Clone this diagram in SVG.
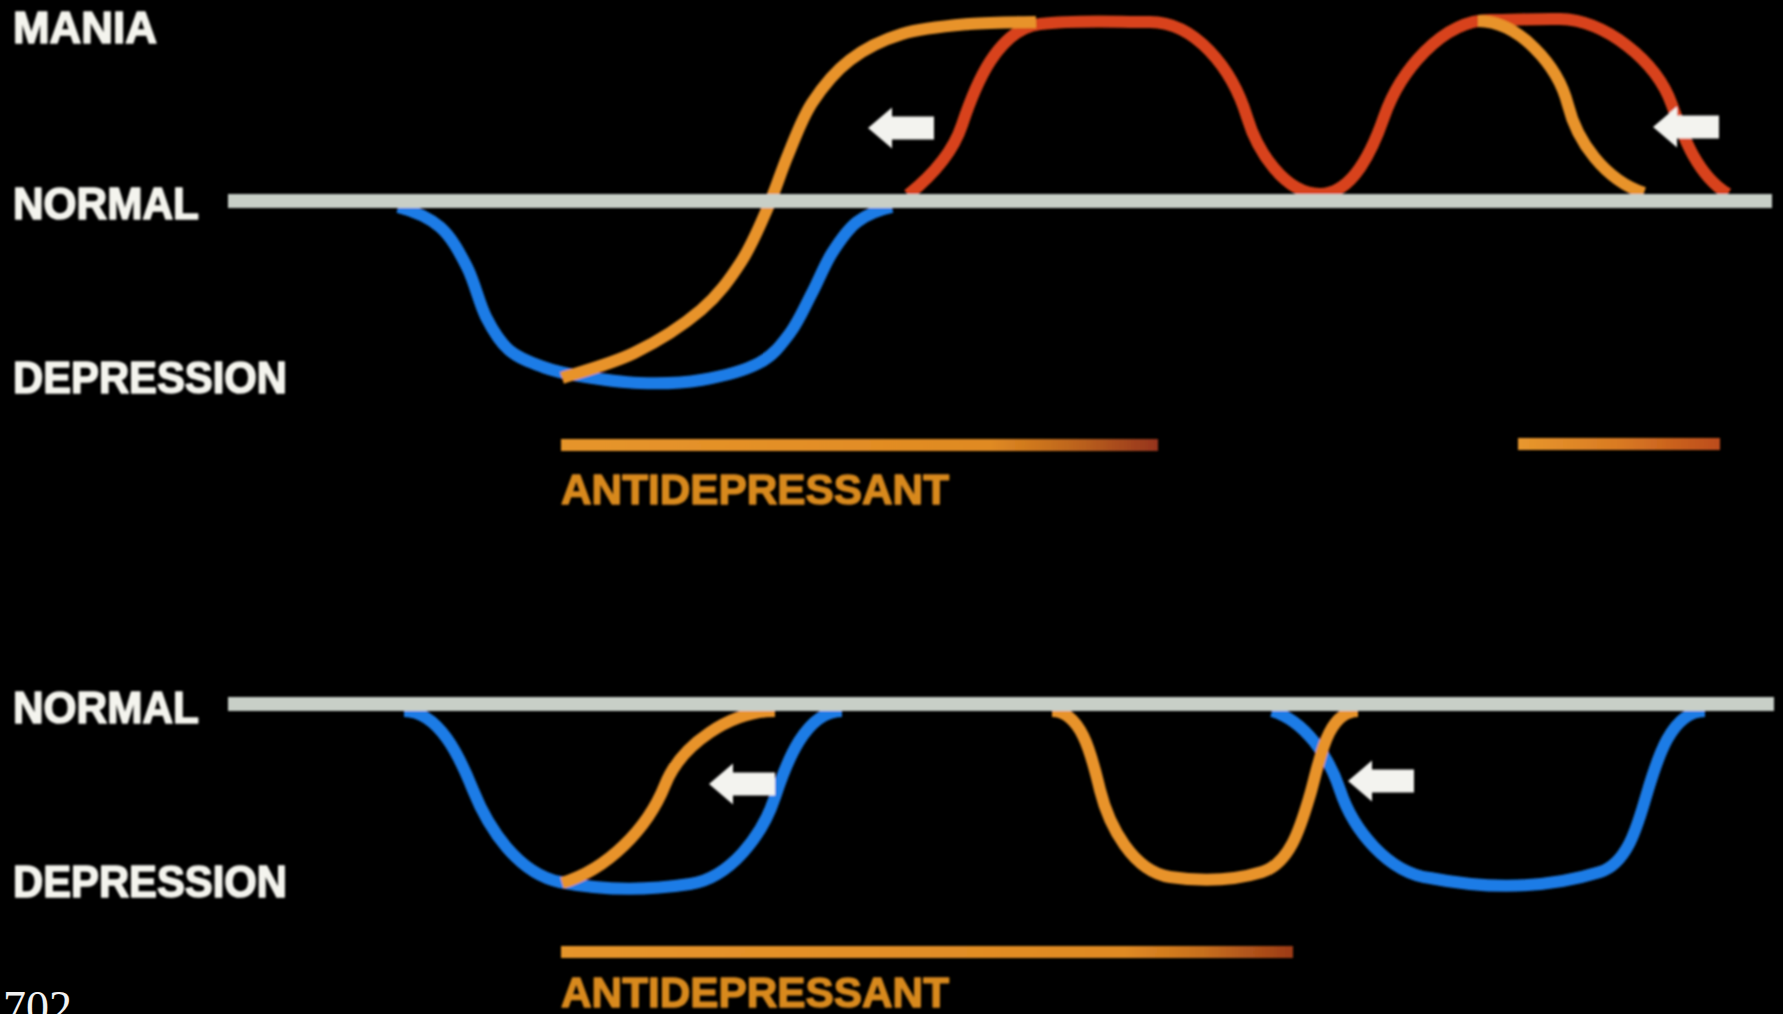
<svg xmlns="http://www.w3.org/2000/svg" width="1783" height="1014" viewBox="0 0 1783 1014">
  <defs>
    <style>
      .lbl { font-family: "Liberation Sans", Arial, sans-serif; font-weight: bold; font-size: 44px; fill: #f4f4ee; stroke: #f4f4ee; stroke-width: 1.6; stroke-linejoin: round; }
      .drug { font-family: "Liberation Sans", Arial, sans-serif; font-weight: bold; font-size: 43px; fill: #d8891f; stroke: #d8891f; stroke-width: 1.4; stroke-linejoin: round; }
      .num { font-family: "Liberation Serif", "Times New Roman", serif; font-size: 46px; fill: #f2f2f2; }
      .curve { fill: none; stroke-width: 12; stroke-linecap: butt; stroke-linejoin: round; }
      .blue { stroke: #1d7ce6; }
      .orange { stroke: #e8932b; }
      .red { stroke: #d8421b; }
      .axis { fill: #c8cfc7; }
      .arrow { fill: #f3f3ef; }
    </style>
    <filter id="soft" x="-5%" y="-20%" width="110%" height="140%">
      <feGaussianBlur stdDeviation="0.8"/>
    </filter>
    <linearGradient id="barTop" gradientUnits="userSpaceOnUse" x1="561" y1="0" x2="1158" y2="0">
      <stop offset="0" stop-color="#e6952c"/>
      <stop offset="0.72" stop-color="#e08a22"/>
      <stop offset="0.86" stop-color="#bd641a"/>
      <stop offset="1" stop-color="#96341a"/>
    </linearGradient>
    <linearGradient id="barSmall" gradientUnits="userSpaceOnUse" x1="1518" y1="0" x2="1720" y2="0">
      <stop offset="0" stop-color="#e8982e"/>
      <stop offset="0.5" stop-color="#d97a22"/>
      <stop offset="1" stop-color="#bd4c1c"/>
    </linearGradient>
    <linearGradient id="barBottom" gradientUnits="userSpaceOnUse" x1="561" y1="0" x2="1293" y2="0">
      <stop offset="0" stop-color="#e6952c"/>
      <stop offset="0.77" stop-color="#e08a22"/>
      <stop offset="0.88" stop-color="#c66e1c"/>
      <stop offset="1" stop-color="#9c3a18"/>
    </linearGradient>
    <path id="arrowShape" d="M0,0 L24,-20.5 L24,-11.5 L66,-11.5 L66,11.5 L24,11.5 L24,20.5 Z"/>
  </defs>

  <rect x="0" y="0" width="1783" height="1014" fill="#000000"/>

  <g filter="url(#soft)">
    <g id="connectors">
      <g id="top-curves">
        <path id="top-blue" class="curve blue" d="M398,207 C411.7,210.5 428.5,217 440,227 C451.5,237 459.3,252 467,267 C474.7,282 479,303.2 486,317 C493,330.8 499.5,341.7 509,350 C518.5,358.3 531.2,362.7 543,367 C554.8,371.3 563.8,373.3 580,376 C596.2,378.7 619.8,382.3 640,383 C660.2,383.7 681.2,383.3 701,380 C720.8,376.7 744.2,370.8 759,363 C773.8,355.2 781.2,344.7 790,333 C798.8,321.3 805,306.3 812,293 C819,279.7 824.5,264.8 832,253 C839.5,241.2 847,229.7 857,222 C867,214.3 879.5,209.7 892,207"/>
        <path id="top-red" class="curve red" d="M908,195 C931,176.6 952.7,153 962,125 C975.4,84.7 997.8,29.1 1040,24 C1076,19.6 1113,22 1150,22 C1195,22 1232,68 1247,117 C1257.2,150.9 1284.6,194 1320,194 C1353.4,194 1373,148.5 1384,117 C1399.8,71.8 1442,20 1490,20 C1513,20 1537,18.5 1560,19 C1605,20 1656.5,60.6 1672,105 C1683.6,138 1698,176 1728,194"/>
        <path id="top-orange-1" class="curve orange" d="M562,378 C574,373.8 610.8,364.3 634,353 C657.2,341.7 683.2,325.2 701,310 C718.8,294.8 729.8,279.2 741,262 C752.2,244.8 760.2,224.8 768,207 C775.8,189.2 780.7,172.3 788,155 C795.3,137.7 801.7,118.8 812,103 C822.3,87.2 835,71.5 850,60 C865,48.5 882.2,40 902,34 C921.8,28 946.7,26 969,24 C991.3,22 1024.8,22.3 1036,22"/>
        <path id="top-orange-2" class="curve orange" d="M1478,21 C1518.8,21 1558,65.4 1568,105 C1577,141.5 1605,180 1644,193"/>
      </g>
      <g id="bottom-curves">
        <path id="bottom-blue-1" class="curve blue" d="M404,711 C439,711 460,757.5 473,790 C488.7,829.2 518.6,873.7 560,882 C602.5,890.5 647,890.5 690,884 C730,878 762.3,835.5 775,797 C786.4,762.5 805.7,711 842,711"/>
        <path id="bottom-blue-2" class="curve blue" d="M1272,711 C1305.2,721 1329.1,757 1340,790 C1353.1,829.9 1388.3,873 1430,878 C1486,889 1545,889 1600,872 C1627,863.6 1636.9,827.1 1645,800 C1655.3,765.7 1669.2,711 1705,711"/>
        <path id="bottom-orange-1" class="curve orange" d="M562,883 C607.4,869.4 647.4,829 665,785 C681.4,744 730.8,711 775,711"/>
        <path id="bottom-orange-2" class="curve orange" d="M1052,711 C1082.8,711 1092.5,760.1 1100,790 C1109,826.1 1133.2,871.5 1170,877 C1200,881.5 1233.3,880.6 1262,872 C1290.9,863.3 1301.3,823.9 1310,795 C1319.2,764.2 1325.8,711 1358,711"/>
      </g>
    </g>

    <g id="normal-line-top"><rect class="axis" x="228" y="194" width="1544" height="14"/></g>
    <g id="normal-line-bottom"><rect class="axis" x="228" y="697" width="1546" height="14"/></g>

    <g id="arrows">
      <use id="arrow-top-1" href="#arrowShape" class="arrow" x="868" y="128"/>
      <use id="arrow-top-2" href="#arrowShape" class="arrow" x="1653" y="127"/>
      <use id="arrow-bottom-1" href="#arrowShape" class="arrow" x="709" y="784"/>
      <use id="arrow-bottom-2" href="#arrowShape" class="arrow" x="1348" y="781"/>
    </g>

    <g id="bar-top"><rect x="561" y="439" width="597" height="12" fill="url(#barTop)"/></g>
    <g id="bar-top-right"><rect x="1518" y="438" width="202" height="12" fill="url(#barSmall)"/></g>
    <g id="bar-bottom"><rect x="561" y="946" width="732" height="12" fill="url(#barBottom)"/></g>

    <g id="label-mania"><text class="lbl" x="13" y="43" textLength="144" lengthAdjust="spacingAndGlyphs">MANIA</text></g>
    <g id="label-normal-top"><text class="lbl" x="13" y="219" textLength="186" lengthAdjust="spacingAndGlyphs">NORMAL</text></g>
    <g id="label-depression-top"><text class="lbl" x="13" y="393" textLength="274" lengthAdjust="spacingAndGlyphs">DEPRESSION</text></g>
    <g id="label-antidepressant-top"><text class="drug" x="561" y="504" textLength="388" lengthAdjust="spacingAndGlyphs">ANTIDEPRESSANT</text></g>
    <g id="label-normal-bottom"><text class="lbl" x="13" y="723" textLength="186" lengthAdjust="spacingAndGlyphs">NORMAL</text></g>
    <g id="label-depression-bottom"><text class="lbl" x="13" y="897" textLength="274" lengthAdjust="spacingAndGlyphs">DEPRESSION</text></g>
    <g id="label-antidepressant-bottom"><text class="drug" x="561" y="1007" textLength="388" lengthAdjust="spacingAndGlyphs">ANTIDEPRESSANT</text></g>
  </g>
  <g id="page-number"><text class="num" x="3" y="1023">702</text></g>
</svg>
